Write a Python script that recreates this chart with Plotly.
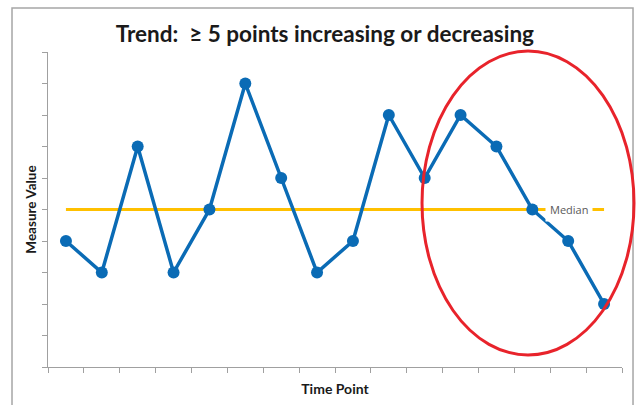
import plotly.graph_objects as go

# Run-chart data
time_points = list(range(1, 17))
measure_values = [4, 3, 7, 3, 5, 9, 6, 3, 4, 8, 6, 8, 7, 5, 4, 2]
median_value = 5
median_label = "Median"
title_text = "Trend:  \u2265 5 points increasing or decreasing"

fig = go.Figure()

# Median reference line
fig.add_trace(go.Scatter(
    x=time_points, y=[median_value] * len(time_points),
    mode="lines", line=dict(color="#FFC000", width=3),
    hoverinfo="skip", showlegend=False,
))

# Measure series
fig.add_trace(go.Scatter(
    x=time_points, y=measure_values,
    mode="lines+markers",
    line=dict(color="#0A6BB5", width=3.5),
    marker=dict(color="#0A6BB5", size=12),
    showlegend=False,
))

# Median label sitting on the line
fig.add_annotation(
    x=time_points[-2], y=median_value, text=median_label,
    showarrow=False, bgcolor="white", borderpad=4, xshift=1,
    font=dict(family="Open Sans", size=11, color="#595959"),
)

# Outer chart frame
fig.add_shape(type="rect", xref="paper", yref="paper",
              x0=-0.0627, x1=1.0192, y0=-0.2, y1=1.1397,
              line=dict(color="#A6A6A6", width=1.5), layer="below")

# Ellipse highlighting the trend
fig.add_shape(type="circle", xref="paper", yref="paper",
              x0=0.6516, x1=1.0209, y0=0.0381, y1=1.003,
              line=dict(color="#E8232B", width=3))

fig.update_layout(
    width=637, height=405,
    margin=dict(l=48, r=15, t=52, b=38),
    paper_bgcolor="white", plot_bgcolor="white",
    title=dict(text=title_text, x=0.51, xanchor="center", y=0.915, yanchor="middle",
               font=dict(family="Lato", size=22.5, color="#1a1a1a", weight="bold")),
    xaxis=dict(
        range=[0.5, 16.5], tickmode="array",
        tickvals=[i + 0.5 for i in range(0, 17)], showticklabels=False,
        ticks="outside", ticklen=5, tickcolor="#A0A0A0",
        showline=True, linecolor="#A0A0A0", linewidth=1, showgrid=False, zeroline=False,
        title=dict(text="<b>Time Point</b>", standoff=12,
                   font=dict(family="Lato", size=14, color="#1a1a1a")),
    ),
    yaxis=dict(
        range=[0, 10], tickmode="array", tickvals=list(range(0, 11)), showticklabels=False,
        ticks="outside", ticklen=5, tickcolor="#A0A0A0",
        showline=True, linecolor="#A0A0A0", linewidth=1, showgrid=False, zeroline=False,
        title=dict(text="<b>Measure Value</b>", standoff=2,
                   font=dict(family="Lato", size=13.5, color="#1a1a1a")),
    ),
)

fig.write_html("out.html")
